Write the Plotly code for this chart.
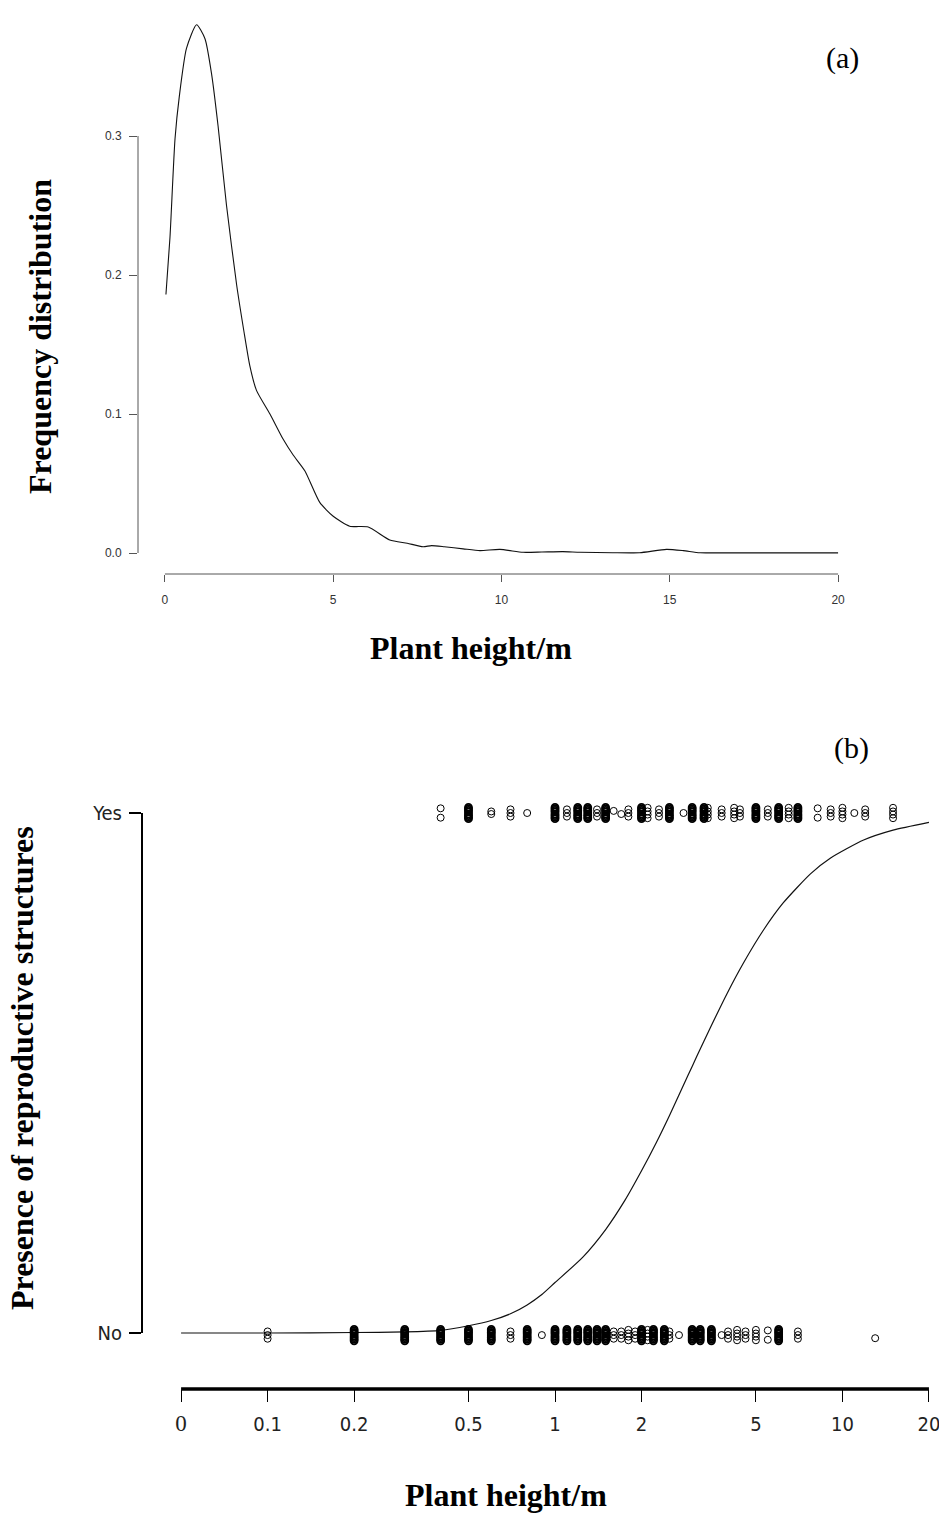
from collections import Counter
import plotly.graph_objects as go

# ---------------- Panel (a): density of plant height ----------------
dens_x = [0.03, 0.15, 0.30, 0.43, 0.64, 0.94, 1.19, 1.39, 1.58, 1.83, 2.13, 2.35, 2.52,
          2.72, 3.12, 3.51, 3.81, 4.16, 4.60, 5.00, 5.49, 6.04, 6.68, 7.20, 7.67, 7.92,
          8.30, 8.86, 9.36, 9.95, 10.64, 11.20, 11.82, 12.33, 13.30, 14.10, 14.90, 15.40,
          15.90, 17.00, 18.00, 20.00]
dens_y = [0.186, 0.227, 0.298, 0.329, 0.363, 0.380, 0.370, 0.344, 0.307, 0.250, 0.193,
          0.159, 0.135, 0.117, 0.100, 0.082, 0.0705, 0.059, 0.0364, 0.0264, 0.0193, 0.0187,
          0.0094, 0.0070, 0.0045, 0.0053, 0.0045, 0.0030, 0.0017, 0.0026, 0.0005, 0.0007,
          0.0010, 0.0005, 0.0002, 0.0002, 0.0026, 0.0017, 0.0002, 0.0001, 0.0001, 0.0001]
a_xticks = [0, 5, 10, 15, 20]
a_yticks = [0.0, 0.1, 0.2, 0.3]
a_yticktext = ["0.0", "0.1", "0.2", "0.3"]

# ---------------- Panel (b): presence of reproductive structures ----------------
curve_x = [0.05, 0.1, 0.2, 0.3, 0.4, 0.5, 0.6, 0.7, 0.8, 0.9, 1.0, 1.25, 1.5, 1.75, 2.0,
           2.25, 2.5, 2.9, 3.12, 3.47, 3.97, 4.52, 5.3, 6.22, 7.74, 9.07, 11.85, 15.0, 20.0]
curve_y = [0.0, 0.0, 0.001, 0.002, 0.005, 0.014, 0.024, 0.037, 0.054, 0.074, 0.097, 0.146,
           0.199, 0.255, 0.312, 0.366, 0.418, 0.495, 0.533, 0.587, 0.653, 0.711, 0.774,
           0.827, 0.883, 0.913, 0.948, 0.967, 0.982]

yes_x = [0.4, 0.4,
         0.5, 0.5, 0.5, 0.5, 0.5, 0.5, 0.5, 0.5,
         0.6, 0.6,
         0.7, 0.7, 0.7,
         0.8,
         1.0, 1.0, 1.0, 1.0, 1.0, 1.0, 1.0, 1.0,
         1.1, 1.1, 1.1,
         1.2, 1.2, 1.2, 1.2, 1.2, 1.2, 1.2, 1.2,
         1.3, 1.3, 1.3, 1.3, 1.3, 1.3, 1.3, 1.3,
         1.4, 1.4, 1.4,
         1.5, 1.5, 1.5, 1.5, 1.5, 1.5, 1.5, 1.5,
         1.6,
         1.7,
         1.8, 1.8, 1.8,
         2.0, 2.0, 2.0, 2.0, 2.0, 2.0, 2.0, 2.0,
         2.1, 2.1, 2.1, 2.1,
         2.3, 2.3, 2.3,
         2.5, 2.5, 2.5, 2.5, 2.5, 2.5, 2.5, 2.5,
         2.8,
         3.0, 3.0, 3.0, 3.0, 3.0, 3.0, 3.0, 3.0,
         3.3, 3.3, 3.3, 3.3, 3.3, 3.3, 3.3, 3.3,
         3.4, 3.4, 3.4, 3.4,
         3.8, 3.8, 3.8,
         4.2, 4.2, 4.2, 4.2,
         4.4, 4.4, 4.4,
         5.0, 5.0, 5.0, 5.0, 5.0, 5.0, 5.0, 5.0,
         5.5, 5.5, 5.5,
         6.0, 6.0, 6.0, 6.0, 6.0, 6.0, 6.0, 6.0,
         6.5, 6.5, 6.5, 6.5,
         7.0, 7.0, 7.0, 7.0, 7.0, 7.0, 7.0, 7.0,
         8.2, 8.2,
         9.1, 9.1, 9.1,
         10.0, 10.0, 10.0, 10.0,
         11.0,
         12.0, 12.0, 12.0,
         15.0, 15.0, 15.0, 15.0]
yes_y = [0.991, 1.009,
         0.989, 0.992, 0.995, 0.998, 1.002, 1.005, 1.008, 1.011,
         0.998, 1.003,
         0.993, 1.000, 1.007,
         1.000,
         0.989, 0.992, 0.995, 0.998, 1.002, 1.005, 1.008, 1.011,
         0.993, 1.000, 1.007,
         0.989, 0.992, 0.995, 0.998, 1.002, 1.005, 1.008, 1.011,
         0.989, 0.992, 0.995, 0.998, 1.002, 1.005, 1.008, 1.011,
         0.993, 1.000, 1.007,
         0.989, 0.992, 0.995, 0.998, 1.002, 1.005, 1.008, 1.011,
         1.004,
         0.998,
         0.993, 1.000, 1.007,
         0.989, 0.992, 0.995, 0.998, 1.002, 1.005, 1.008, 1.011,
         0.990, 0.997, 1.003, 1.010,
         0.993, 1.000, 1.007,
         0.989, 0.992, 0.995, 0.998, 1.002, 1.005, 1.008, 1.011,
         1.000,
         0.989, 0.992, 0.995, 0.998, 1.002, 1.005, 1.008, 1.011,
         0.989, 0.992, 0.995, 0.998, 1.002, 1.005, 1.008, 1.011,
         0.990, 0.997, 1.003, 1.010,
         0.993, 1.000, 1.007,
         0.990, 0.997, 1.003, 1.010,
         0.993, 1.000, 1.007,
         0.989, 0.992, 0.995, 0.998, 1.002, 1.005, 1.008, 1.011,
         0.993, 1.000, 1.007,
         0.989, 0.992, 0.995, 0.998, 1.002, 1.005, 1.008, 1.011,
         0.990, 0.997, 1.003, 1.010,
         0.989, 0.992, 0.995, 0.998, 1.002, 1.005, 1.008, 1.011,
         0.991, 1.009,
         0.993, 1.000, 1.007,
         0.990, 0.997, 1.003, 1.010,
         1.000,
         0.993, 1.000, 1.007,
         0.990, 0.997, 1.003, 1.010]

no_x = [0.1, 0.1, 0.1,
        0.2, 0.2, 0.2, 0.2, 0.2, 0.2, 0.2, 0.2,
        0.3, 0.3, 0.3, 0.3, 0.3, 0.3, 0.3, 0.3,
        0.4, 0.4, 0.4, 0.4, 0.4, 0.4, 0.4, 0.4,
        0.5, 0.5, 0.5, 0.5, 0.5, 0.5, 0.5, 0.5,
        0.6, 0.6, 0.6, 0.6, 0.6, 0.6, 0.6, 0.6,
        0.7, 0.7, 0.7,
        0.8, 0.8, 0.8, 0.8, 0.8, 0.8, 0.8, 0.8,
        0.9,
        1.0, 1.0, 1.0, 1.0, 1.0, 1.0, 1.0, 1.0,
        1.1, 1.1, 1.1, 1.1, 1.1, 1.1, 1.1, 1.1,
        1.2, 1.2, 1.2, 1.2, 1.2, 1.2, 1.2, 1.2,
        1.3, 1.3, 1.3, 1.3, 1.3, 1.3, 1.3, 1.3,
        1.4, 1.4, 1.4, 1.4, 1.4, 1.4, 1.4, 1.4,
        1.5, 1.5, 1.5, 1.5, 1.5, 1.5, 1.5, 1.5,
        1.6, 1.6, 1.6,
        1.7, 1.7, 1.7,
        1.8, 1.8, 1.8, 1.8,
        1.9, 1.9, 1.9,
        2.0, 2.0, 2.0, 2.0, 2.0, 2.0, 2.0, 2.0,
        2.1, 2.1, 2.1, 2.1,
        2.2, 2.2, 2.2, 2.2, 2.2, 2.2, 2.2, 2.2,
        2.4, 2.4, 2.4, 2.4, 2.4, 2.4, 2.4, 2.4,
        2.5, 2.5, 2.5,
        2.7,
        3.0, 3.0, 3.0, 3.0, 3.0, 3.0, 3.0, 3.0,
        3.2, 3.2, 3.2, 3.2, 3.2, 3.2, 3.2, 3.2,
        3.5, 3.5, 3.5, 3.5, 3.5, 3.5, 3.5, 3.5,
        3.8,
        4.0, 4.0, 4.0,
        4.3, 4.3, 4.3, 4.3,
        4.6, 4.6, 4.6,
        5.0, 5.0, 5.0, 5.0,
        5.5, 5.5,
        6.0, 6.0, 6.0, 6.0, 6.0, 6.0, 6.0, 6.0,
        7.0, 7.0, 7.0,
        13.0]
no_y = [-0.011, -0.004, 0.003,
        -0.015, -0.012, -0.009, -0.006, -0.002, 0.001, 0.004, 0.007,
        -0.015, -0.012, -0.009, -0.006, -0.002, 0.001, 0.004, 0.007,
        -0.015, -0.012, -0.009, -0.006, -0.002, 0.001, 0.004, 0.007,
        -0.015, -0.012, -0.009, -0.006, -0.002, 0.001, 0.004, 0.007,
        -0.015, -0.012, -0.009, -0.006, -0.002, 0.001, 0.004, 0.007,
        -0.011, -0.004, 0.003,
        -0.015, -0.012, -0.009, -0.006, -0.002, 0.001, 0.004, 0.007,
        -0.004,
        -0.015, -0.012, -0.009, -0.006, -0.002, 0.001, 0.004, 0.007,
        -0.015, -0.012, -0.009, -0.006, -0.002, 0.001, 0.004, 0.007,
        -0.015, -0.012, -0.009, -0.006, -0.002, 0.001, 0.004, 0.007,
        -0.015, -0.012, -0.009, -0.006, -0.002, 0.001, 0.004, 0.007,
        -0.015, -0.012, -0.009, -0.006, -0.002, 0.001, 0.004, 0.007,
        -0.015, -0.012, -0.009, -0.006, -0.002, 0.001, 0.004, 0.007,
        -0.011, -0.004, 0.003,
        -0.011, -0.004, 0.003,
        -0.014, -0.007, -0.001, 0.006,
        -0.011, -0.004, 0.003,
        -0.015, -0.012, -0.009, -0.006, -0.002, 0.001, 0.004, 0.007,
        -0.014, -0.007, -0.001, 0.006,
        -0.015, -0.012, -0.009, -0.006, -0.002, 0.001, 0.004, 0.007,
        -0.015, -0.012, -0.009, -0.006, -0.002, 0.001, 0.004, 0.007,
        -0.011, -0.004, 0.003,
        -0.004,
        -0.015, -0.012, -0.009, -0.006, -0.002, 0.001, 0.004, 0.007,
        -0.015, -0.012, -0.009, -0.006, -0.002, 0.001, 0.004, 0.007,
        -0.015, -0.012, -0.009, -0.006, -0.002, 0.001, 0.004, 0.007,
        -0.004,
        -0.011, -0.004, 0.003,
        -0.014, -0.007, -0.001, 0.006,
        -0.011, -0.004, 0.003,
        -0.014, -0.007, -0.001, 0.006,
        -0.013, 0.005,
        -0.015, -0.012, -0.009, -0.006, -0.002, 0.001, 0.004, 0.007,
        -0.011, -0.004, 0.003,
        -0.010]

b_xtickvals = [0.05, 0.1, 0.2, 0.5, 1, 2, 5, 10, 20]
b_xticktext = ["<span style='font-family:Liberation Serif;font-size:23px'>0</span>", "0.1",
               "0.2", "0.5", "1", "2", "5", "10", "20"]
b_ytickvals = [0, 1]
b_yticktext = ["No", "Yes"]

# ---------------- layout geometry (paper fractions) ----------------
W, H = 939, 1517
ax_dom = [138 / W, 865 / W]
ay_dom = [(H - 574) / H, (H - 4) / H]
bx_dom = [142 / W, 1.0]
by_dom = [(H - 1389) / H, (H - 790) / H]

fig = go.Figure()

fig.add_trace(go.Scatter(x=dens_x, y=dens_y, mode="lines",
                         line=dict(color="#111111", width=1.1, shape="spline", smoothing=0.6),
                         xaxis="x", yaxis="y", showlegend=False, hoverinfo="skip"))

fig.add_trace(go.Scatter(x=curve_x, y=curve_y, mode="lines",
                         line=dict(color="#111111", width=1.2, shape="spline", smoothing=0.6),
                         xaxis="x2", yaxis="y2", showlegend=False))


def outline_widths(xs):
    # heavily overplotted piles render as solid black ovals, as in the original
    counts = Counter(xs)
    return [1.8 if counts[v] >= 8 else 1.0 for v in xs]


for px, py in ((yes_x, yes_y), (no_x, no_y)):
    fig.add_trace(go.Scatter(
        x=px, y=py, mode="markers",
        marker=dict(symbol="circle-open", size=7, color="black",
                    line=dict(width=outline_widths(px), color="black")),
        xaxis="x2", yaxis="y2", showlegend=False))

axis_gray = "#555555"
small_font = dict(family="Liberation Sans, Arial, sans-serif", size=12, color="#333333")
narrow_font = dict(family="DejaVu Sans Condensed, Liberation Sans Narrow, Arial Narrow, sans-serif",
                   size=20, color="#222222")

fig.update_layout(
    width=W, height=H,
    margin=dict(l=0, r=0, t=0, b=0),
    paper_bgcolor="white", plot_bgcolor="white",
    xaxis=dict(domain=ax_dom, range=[-0.8, 20.8], anchor="y",
               tickvals=a_xticks, ticks="outside", ticklen=7, tickcolor=axis_gray,
               tickwidth=1, showgrid=False, zeroline=False, showline=False,
               tickfont=small_font, ticklabelstandoff=8),
    yaxis=dict(domain=ay_dom, range=[-0.015108, 0.39496], anchor="x",
               tickvals=a_yticks, ticktext=a_yticktext, ticks="outside", ticklen=8,
               tickcolor=axis_gray, tickwidth=1, showgrid=False, zeroline=False,
               showline=False, tickfont=small_font, ticklabelstandoff=5),
    xaxis2=dict(domain=bx_dom, type="log", range=[-1.437, 1.336], anchor="y2",
                tickvals=b_xtickvals, ticktext=b_xticktext, ticks="outside", ticklen=12,
                tickcolor="black", tickwidth=1, showgrid=False, zeroline=False,
                showline=False, tickfont=narrow_font, ticklabelstandoff=5,
                ticklabeloverflow="allow"),
    yaxis2=dict(domain=by_dom, range=[-0.10769, 1.04423], anchor="x2",
                tickvals=b_ytickvals, ticktext=b_yticktext, ticks="outside", ticklen=12,
                tickcolor="black", tickwidth=2, showgrid=False, zeroline=False,
                showline=False, tickfont=narrow_font, ticklabelstandoff=3),
)

# R-style axis lines spanning only from first to last tick
fig.add_shape(type="line", xref="x", yref="paper", x0=a_xticks[0], x1=a_xticks[-1],
              y0=ay_dom[0], y1=ay_dom[0], line=dict(color=axis_gray, width=1))
fig.add_shape(type="line", xref="paper", yref="y", x0=ax_dom[0], x1=ax_dom[0],
              y0=a_yticks[0], y1=a_yticks[-1], line=dict(color=axis_gray, width=1))
fig.add_shape(type="line", xref="x2", yref="paper",
              x0=b_xtickvals[0], x1=b_xtickvals[-1],
              y0=by_dom[0], y1=by_dom[0], line=dict(color="black", width=3.5))
fig.add_shape(type="line", xref="paper", yref="y2", x0=bx_dom[0], x1=bx_dom[0],
              y0=b_ytickvals[0], y1=b_ytickvals[-1], line=dict(color="black", width=2))

serif_bold = dict(family="Liberation Serif, Times New Roman, serif", size=32, color="black")
serif = dict(family="Liberation Serif, Times New Roman, serif", size=30, color="black")


def ann(text, x, y, font, angle=0):
    fig.add_annotation(text=text, x=x / W, y=(H - y) / H, xref="paper", yref="paper",
                       showarrow=False, xanchor="center", yanchor="middle",
                       font=font, textangle=angle)


ann("<b>Frequency distribution</b>", 40, 337, serif_bold, -90)
ann("<b>Plant height/m</b>", 471, 648, serif_bold)
ann("(a)", 842, 58, serif)
ann("<b>Presence of reproductive structures</b>", 22, 1068, serif_bold, -90)
ann("<b>Plant height/m</b>", 506, 1495, serif_bold)
ann("(b)", 851, 748, serif)

fig.write_html("out.html", config={"displayModeBar": False},
               post_script="document.body.style.margin='0';")
